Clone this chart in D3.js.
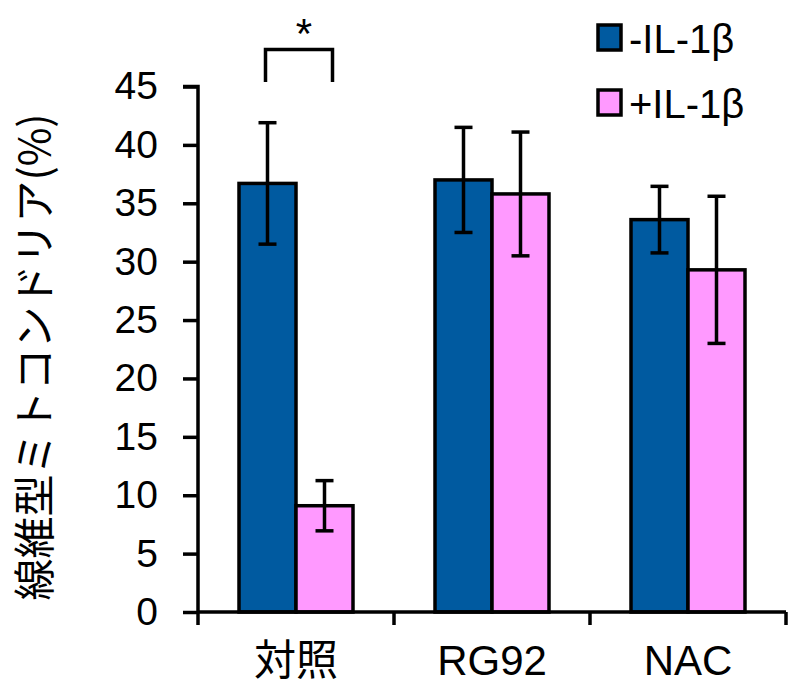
<!DOCTYPE html>
<html><head><meta charset="utf-8">
<script src="https://cdn.jsdelivr.net/npm/d3@7"></script>
<style>body{margin:0;background:#fff}</style>
</head><body>
<script>
const categories = ["対照", "RG92", "NAC"];
const seriesNames = ["-IL-1β", "+IL-1β"];
const minusIL = [36.7, 37.0, 33.6];
const minusErr = [5.2, 4.5, 2.85];
const plusIL = [9.1, 35.8, 29.3];
const plusErr = [2.15, 5.3, 6.3];
const yTicks = [0, 5, 10, 15, 20, 25, 30, 35, 40, 45];
const colors = ["#005aa0", "#ff99ff"];
const yLabel = "線維型ミトコンドリア(%)";

const W = 802, H = 687;
const svg = d3.select("body").append("svg").attr("width", W).attr("height", H);
const font = "'Liberation Sans', Arial, sans-serif";
const cjk = "'Noto Sans CJK JP', 'Liberation Sans', sans-serif";
const mixed = "'Liberation Sans', 'Noto Sans CJK JP', sans-serif";

const x = d3.scaleBand().domain(categories).range([198, 786]).paddingInner(0).paddingOuter(0);
const y = d3.scaleLinear().domain([0, 45]).range([612, 86.5]);
const barW = 57;

const series = [
  {vals: minusIL, errs: minusErr, color: colors[0], off: -barW},
  {vals: plusIL, errs: plusErr, color: colors[1], off: 0}
];

// bars
series.forEach(s => {
  svg.append("g").selectAll("rect").data(categories).join("rect")
    .attr("x", c => x(c) + x.bandwidth()/2 + s.off)
    .attr("y", (c,i) => y(s.vals[i]))
    .attr("width", barW)
    .attr("height", (c,i) => y(0) - y(s.vals[i]))
    .attr("fill", s.color).attr("stroke", "#000").attr("stroke-width", 3.5);
});
// error bars
series.forEach(s => {
  const g = svg.append("g").attr("stroke", "#000").attr("stroke-width", 3.5);
  categories.forEach((c, i) => {
    const cx = x(c) + x.bandwidth()/2 + s.off + barW/2;
    const t = y(s.vals[i] + s.errs[i]), b = y(s.vals[i] - s.errs[i]);
    g.append("line").attr("x1", cx).attr("x2", cx).attr("y1", t).attr("y2", b);
    g.append("line").attr("x1", cx-9).attr("x2", cx+9).attr("y1", t).attr("y2", t);
    g.append("line").attr("x1", cx-9).attr("x2", cx+9).attr("y1", b).attr("y2", b);
  });
});

// y axis
const ya = svg.append("g").attr("transform", "translate(198,0)")
  .call(d3.axisLeft(y).tickValues(yTicks).tickSize(15).tickPadding(25));
ya.select(".domain").attr("stroke-width", 3.5).attr("d", `M-15,${y(45)}H0V${y(0)}`);
ya.selectAll(".tick line").attr("stroke-width", 3.5);
ya.selectAll(".tick text").attr("font-size", 39).attr("font-family", font).attr("fill", "#000");

// x axis
const xa = svg.append("g").attr("transform", "translate(0,612)")
  .call(d3.axisBottom(x).tickSize(0).tickPadding(33));
xa.select(".domain").attr("stroke-width", 3.5).attr("d", `M198,0H786`);
xa.selectAll(".tick text").attr("font-size", 42).attr("font-family", mixed).attr("fill", "#000");
const bounds = [198].concat(categories.map(c => x(c) + x.bandwidth()));
xa.selectAll(".xt").data(bounds).join("line").attr("x1", d => d).attr("x2", d => d)
  .attr("y1", 0).attr("y2", 13).attr("stroke", "#000").attr("stroke-width", 3.5);

// y label
svg.append("text").attr("transform", `translate(50,357) rotate(-90)`)
  .attr("text-anchor", "middle").attr("font-size", 42)
  .attr("font-family", cjk).text(yLabel);

// significance
const x1 = x(categories[0]) + x.bandwidth()/2 - barW/2;
const x2 = x(categories[0]) + x.bandwidth()/2 + barW/2;
svg.append("path").attr("d", `M${x1-2},82V49.5H${x2+8}V82`).attr("fill", "none")
  .attr("stroke", "#000").attr("stroke-width", 3.5);
svg.append("text").attr("x", 304).attr("y", 48).attr("text-anchor", "middle")
  .attr("font-size", 42).attr("font-family", font).text("*");

// legend
seriesNames.forEach((n, i) => {
  const ly = 25 + i * 65;
  svg.append("rect").attr("x", 598).attr("y", ly).attr("width", 23).attr("height", 25)
    .attr("fill", colors[i]).attr("stroke", "#000").attr("stroke-width", 3.5);
  svg.append("text").attr("x", 629).attr("y", ly + 28).attr("font-size", 40)
    .attr("font-family", font).text(n);
});
</script>
</body></html>
